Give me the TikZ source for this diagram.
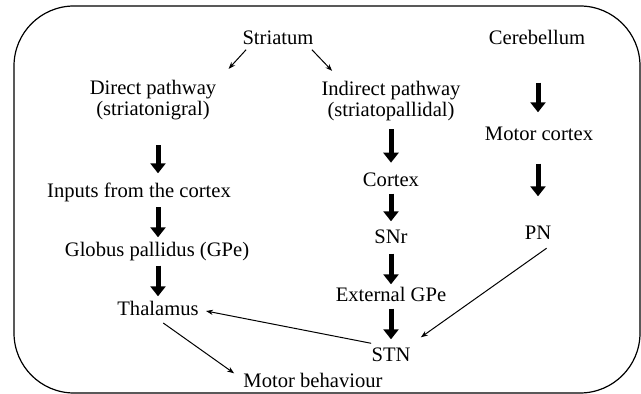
\documentclass[tikz,border=0pt]{standalone}
\usepackage{fontspec}
\setmainfont{Liberation Serif}
\usetikzlibrary{arrows.meta}
\begin{document}
\begin{tikzpicture}[->, >={Stealth[length=3.5pt,width=2.6pt]}, x=0.5pt, y=-0.5pt,
    main node/.style={inner sep=0pt, font=\fontsize{10.3}{8.8}\selectfont},
    one line/.style={main node, text height=7pt, text depth=2.3pt},
    two lines/.style={main node, align=center},
    big arrow/.style={-{Triangle[width=7.5pt,length=5pt]}, line width=2.5pt}]
        \tikzstyle{every edge}=[draw, line width=0.5pt]
        \useasboundingbox (0,0) rectangle (641,394);
        \draw[-, rounded corners=30pt, line width=0.6pt] (14,6) rectangle (640,393);

          \node[one line] (1) at (278,40) {Striatum};
          \node[two lines] (2) at (153,100) {Direct pathway\\(striatonigral)};
          \node[two lines] (3) at (391,101) {Indirect pathway\\(striatopallidal)};
          \node[one line] (4) at (537,40) {Cerebellum};
          \node[one line] (5) at (139,193) {Inputs from the cortex};
          \node[one line] (6) at (391,182) {Cortex};
          \node[one line] (7) at (539,136) {Motor cortex};
          \node[one line] (8) at (157,252) {Globus pallidus (GPe)};
          \node[one line] (9) at (391,239) {SNr};
          \node[one line] (10) at (538,235) {PN};
          \node[one line] (11) at (158,311) {Thalamus};
          \node[one line] (12) at (391,297) {External GPe};
          \node[one line] (13) at (391,357) {STN};
          \node[one line] (14) at (313,383) {Motor behaviour};

          % thick arrows down the three columns
          \path[every edge/.append style={big arrow}]
            (2.south -| 11) edge[shorten <=12.5pt, shorten >=5pt] (5.north -| 11)
            (5.south -| 11) edge[shorten <=2.25pt, shorten >=2.5pt] (8.north -| 11)
            (8.south -| 11) edge[shorten <=2pt, shorten >=2.5pt] (11.north)
            (3.south) edge[shorten <=4pt, shorten >=4.8pt] (6.north)
            (6.south) edge[shorten <=1pt, shorten >=4pt] (9.north)
            (9.south) edge[shorten <=2.5pt, shorten >=1.5pt] (12.north)
            (12.south) edge[shorten <=1pt, shorten >=4pt] (13.north)
            (4.south -| 10) edge[shorten <=16.5pt, shorten >=7pt] (7.north -| 10)
            (7.south -| 10) edge[shorten <=9pt, shorten >=14.5pt] (10.north);

          % thin arrows
          \path
            ([xshift=2pt]1.south west) edge ([shift={(12,-11)}]2.north east)
            ([xshift=-1pt]1.south east) edge ([shift={(11,-10)}]3.north west)
            ([yshift=2pt]13.north west) edge ([xshift=3.5pt]11.east)
            ([xshift=1pt]11.south) edge[shorten <=2pt] ([xshift=-4.5pt]14.north west)
            (10.south east) edge[shorten <=3pt] ([shift={(10,-10)}]13.north east);

\end{tikzpicture}
\end{document}
